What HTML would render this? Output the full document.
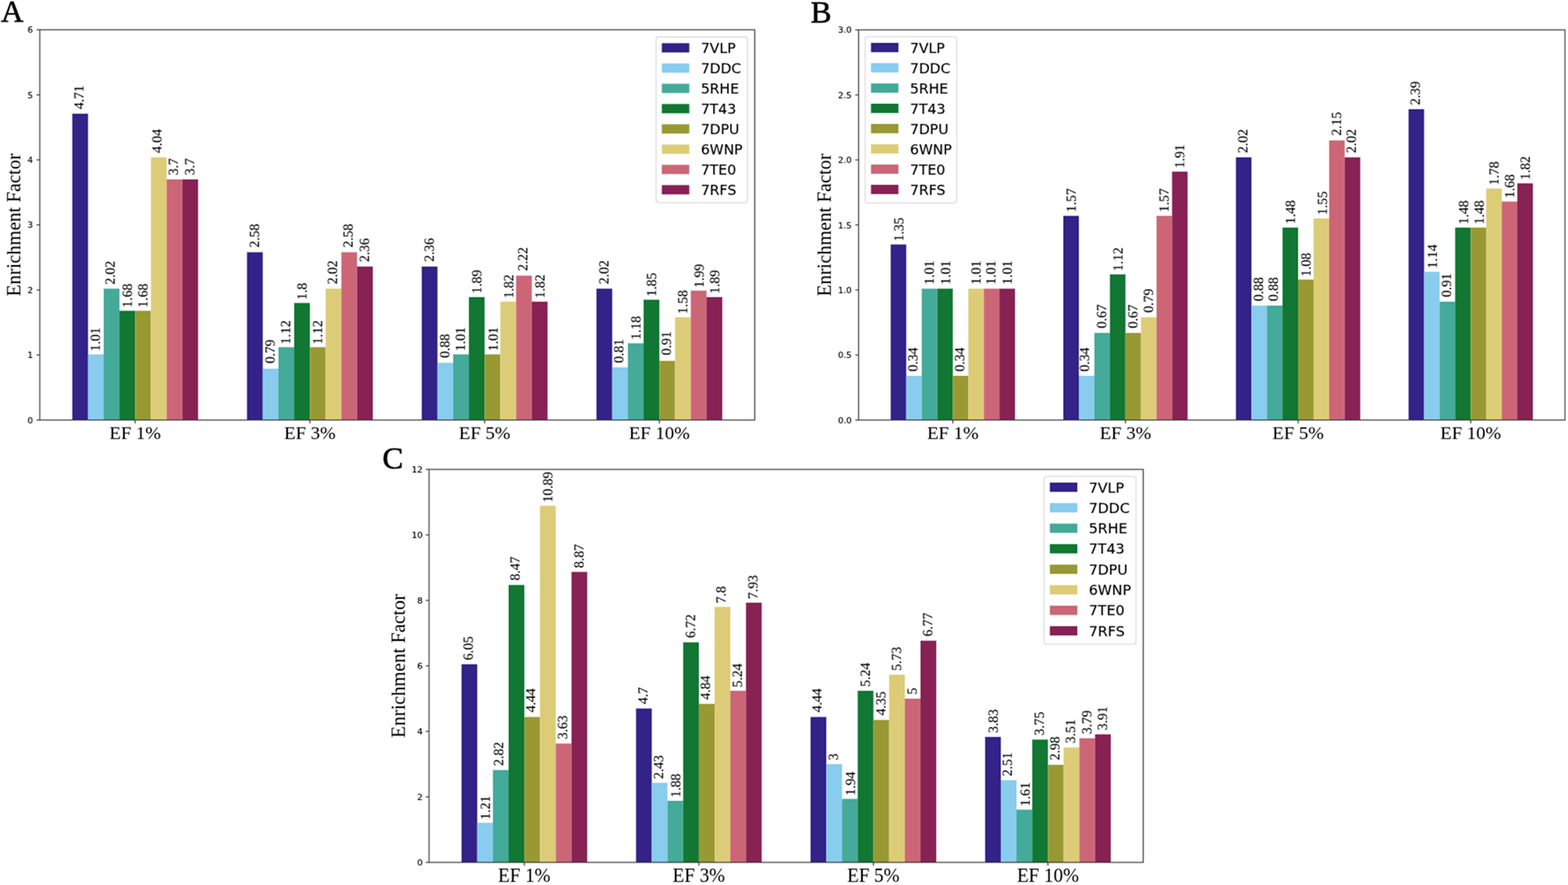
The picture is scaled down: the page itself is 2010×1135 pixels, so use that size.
<!DOCTYPE html>
<html><head><meta charset="utf-8"><title>Enrichment Factor</title>
<style>
html,body{margin:0;padding:0;background:#fff;}
body{width:2010px;height:1135px;overflow:hidden;}
svg{display:block;}
.yt,.lg{stroke:#000;stroke-width:0.12px;}
.v{stroke:#000;stroke-width:0.12px;}
.lt{stroke:#000;stroke-width:0.7px;}
.v{font-family:'Liberation Serif','Times New Roman',serif;font-size:17.50px;fill:#000;text-rendering:geometricPrecision;}
.yt{font-family:'DejaVu Sans','Liberation Sans',sans-serif;font-size:11.00px;fill:#000;text-anchor:end;}
.xt{font-family:'Liberation Serif','Times New Roman',serif;font-size:24.00px;fill:#000;text-anchor:middle;}
.yl{font-family:'Liberation Serif','Times New Roman',serif;font-size:24.50px;fill:#000;text-anchor:middle;}
.lt{font-family:'Liberation Serif','Times New Roman',serif;font-size:40.00px;fill:#000;}
.lg{font-family:'DejaVu Sans','Liberation Sans',sans-serif;font-size:18.00px;fill:#000;}
.xt.c{font-size:24.4px;}
.yt.c{font-size:11.2px;}
.yl.c{font-size:24.7px;}
.lg.c{font-size:18.2px;}
</style></head>
<body><div id="wrap">
<svg width="2010" height="1135" viewBox="0 0 2010 1135">
<defs><filter id="bl" filterUnits="userSpaceOnUse" x="-10" y="-10" width="2030" height="1155" color-interpolation-filters="sRGB"><feConvolveMatrix order="5" kernelMatrix="0.0049 -0.0168 -0.0462 -0.0168 0.0049 -0.0168 0.0576 0.1584 0.0576 -0.0168 -0.0462 0.1584 0.4356 0.1584 -0.0462 -0.0168 0.0576 0.1584 0.0576 -0.0168 0.0049 -0.0168 -0.0462 -0.0168 0.0049" divisor="1" edgeMode="duplicate" preserveAlpha="true"/></filter></defs>
<g filter="url(#bl)">
<rect x="-10" y="-10" width="2030" height="1155" fill="#fff"/>
<rect x="92.66" y="145.81" width="20.16" height="392.89" fill="#332288"/>
<rect x="112.82" y="454.45" width="20.16" height="84.25" fill="#88CCEE"/>
<rect x="132.97" y="370.20" width="20.16" height="168.50" fill="#44AA99"/>
<rect x="153.13" y="398.56" width="20.16" height="140.14" fill="#117733"/>
<rect x="173.29" y="398.56" width="20.16" height="140.14" fill="#999933"/>
<rect x="193.45" y="201.70" width="20.16" height="337.00" fill="#DDCC77"/>
<rect x="213.60" y="230.06" width="20.16" height="308.64" fill="#CC6677"/>
<rect x="233.76" y="230.06" width="20.16" height="308.64" fill="#882255"/>
<rect x="316.63" y="323.49" width="20.16" height="215.22" fill="#332288"/>
<rect x="336.79" y="472.80" width="20.16" height="65.90" fill="#88CCEE"/>
<rect x="356.95" y="445.27" width="20.16" height="93.43" fill="#44AA99"/>
<rect x="377.11" y="388.55" width="20.16" height="150.15" fill="#117733"/>
<rect x="397.26" y="445.27" width="20.16" height="93.43" fill="#999933"/>
<rect x="417.42" y="370.20" width="20.16" height="168.50" fill="#DDCC77"/>
<rect x="437.58" y="323.49" width="20.16" height="215.22" fill="#CC6677"/>
<rect x="457.74" y="341.84" width="20.16" height="196.86" fill="#882255"/>
<rect x="540.61" y="341.84" width="20.16" height="196.86" fill="#332288"/>
<rect x="560.76" y="465.29" width="20.16" height="73.41" fill="#88CCEE"/>
<rect x="580.92" y="454.45" width="20.16" height="84.25" fill="#44AA99"/>
<rect x="601.08" y="381.04" width="20.16" height="157.66" fill="#117733"/>
<rect x="621.24" y="454.45" width="20.16" height="84.25" fill="#999933"/>
<rect x="641.39" y="386.88" width="20.16" height="151.82" fill="#DDCC77"/>
<rect x="661.55" y="353.51" width="20.16" height="185.19" fill="#CC6677"/>
<rect x="681.71" y="386.88" width="20.16" height="151.82" fill="#882255"/>
<rect x="764.58" y="370.20" width="20.16" height="168.50" fill="#332288"/>
<rect x="784.74" y="471.13" width="20.16" height="67.57" fill="#88CCEE"/>
<rect x="804.90" y="440.27" width="20.16" height="98.43" fill="#44AA99"/>
<rect x="825.05" y="384.38" width="20.16" height="154.32" fill="#117733"/>
<rect x="845.21" y="462.79" width="20.16" height="75.91" fill="#999933"/>
<rect x="865.37" y="406.90" width="20.16" height="131.80" fill="#DDCC77"/>
<rect x="885.53" y="372.70" width="20.16" height="166.00" fill="#CC6677"/>
<rect x="905.68" y="381.04" width="20.16" height="157.66" fill="#882255"/>
<text class="v" transform="translate(107.19 140.01) rotate(-90) scale(1.000 1.020)">4.71</text>
<text class="v" transform="translate(128.13 450.55) rotate(-90) scale(1.000 1.020)">1.01</text>
<text class="v" transform="translate(146.67 365.10) rotate(-90) scale(1.000 1.020)">2.02</text>
<text class="v" transform="translate(168.84 394.46) rotate(-90) scale(1.000 1.020)">1.68</text>
<text class="v" transform="translate(188.80 394.46) rotate(-90) scale(1.000 1.020)">1.68</text>
<text class="v" transform="translate(207.27 196.20) rotate(-90) scale(1.000 1.020)">4.04</text>
<text class="v" transform="translate(228.15 224.76) rotate(-90) scale(1.000 1.020)">3.7</text>
<text class="v" transform="translate(248.81 224.76) rotate(-90) scale(1.000 1.020)">3.7</text>
<text class="v" transform="translate(331.67 317.58) rotate(-90) scale(1.000 1.020)">2.58</text>
<text class="v" transform="translate(351.94 466.10) rotate(-90) scale(1.000 1.020)">0.79</text>
<text class="v" transform="translate(372.44 441.47) rotate(-90) scale(1.000 1.020)">1.12</text>
<text class="v" transform="translate(392.90 384.55) rotate(-90) scale(1.000 1.020)">1.8</text>
<text class="v" transform="translate(412.55 441.47) rotate(-90) scale(1.000 1.020)">1.12</text>
<text class="v" transform="translate(432.12 364.60) rotate(-90) scale(1.000 1.020)">2.02</text>
<text class="v" transform="translate(451.92 317.58) rotate(-90) scale(1.000 1.020)">2.58</text>
<text class="v" transform="translate(472.83 336.04) rotate(-90) scale(1.000 1.020)">2.36</text>
<text class="v" transform="translate(555.51 335.84) rotate(-90) scale(1.000 1.020)">2.36</text>
<text class="v" transform="translate(576.26 458.99) rotate(-90) scale(1.000 1.020)">0.88</text>
<text class="v" transform="translate(596.43 450.15) rotate(-90) scale(1.000 1.020)">1.01</text>
<text class="v" transform="translate(616.86 376.54) rotate(-90) scale(1.000 1.020)">1.89</text>
<text class="v" transform="translate(637.55 450.15) rotate(-90) scale(1.000 1.020)">1.01</text>
<text class="v" transform="translate(657.89 382.58) rotate(-90) scale(1.000 1.020)">1.82</text>
<text class="v" transform="translate(676.27 347.61) rotate(-90) scale(1.000 1.020)">2.22</text>
<text class="v" transform="translate(698.21 382.58) rotate(-90) scale(1.000 1.020)">1.82</text>
<text class="v" transform="translate(779.98 364.40) rotate(-90) scale(1.000 1.020)">2.02</text>
<text class="v" transform="translate(799.44 465.43) rotate(-90) scale(1.000 1.020)">0.81</text>
<text class="v" transform="translate(820.99 435.77) rotate(-90) scale(1.000 1.020)">1.18</text>
<text class="v" transform="translate(841.30 380.28) rotate(-90) scale(1.000 1.020)">1.85</text>
<text class="v" transform="translate(860.01 455.59) rotate(-90) scale(1.000 1.020)">0.91</text>
<text class="v" transform="translate(881.31 402.70) rotate(-90) scale(1.000 1.020)">1.58</text>
<text class="v" transform="translate(902.19 369.00) rotate(-90) scale(1.000 1.020)">1.99</text>
<text class="v" transform="translate(921.76 376.84) rotate(-90) scale(1.000 1.020)">1.89</text>
<rect x="51.00" y="38.20" width="916.50" height="500.50" fill="none" stroke="#303030" stroke-width="1.20"/>
<line x1="46.80" y1="538.70" x2="51.00" y2="538.70" stroke="#303030" stroke-width="1.20"/>
<text class="yt" x="42.20" y="542.71">0</text>
<line x1="46.80" y1="455.28" x2="51.00" y2="455.28" stroke="#303030" stroke-width="1.20"/>
<text class="yt" x="42.20" y="459.29">1</text>
<line x1="46.80" y1="371.87" x2="51.00" y2="371.87" stroke="#303030" stroke-width="1.20"/>
<text class="yt" x="42.20" y="375.88">2</text>
<line x1="46.80" y1="288.45" x2="51.00" y2="288.45" stroke="#303030" stroke-width="1.20"/>
<text class="yt" x="42.20" y="292.46">3</text>
<line x1="46.80" y1="205.03" x2="51.00" y2="205.03" stroke="#303030" stroke-width="1.20"/>
<text class="yt" x="42.20" y="209.04">4</text>
<line x1="46.80" y1="121.62" x2="51.00" y2="121.62" stroke="#303030" stroke-width="1.20"/>
<text class="yt" x="42.20" y="125.63">5</text>
<line x1="46.80" y1="38.20" x2="51.00" y2="38.20" stroke="#303030" stroke-width="1.20"/>
<text class="yt" x="42.20" y="42.21">6</text>
<line x1="173.29" y1="538.70" x2="173.29" y2="542.90" stroke="#303030" stroke-width="1.20"/>
<text class="xt" x="173.29" y="562.70">EF 1%</text>
<line x1="397.26" y1="538.70" x2="397.26" y2="542.90" stroke="#303030" stroke-width="1.20"/>
<text class="xt" x="397.26" y="562.70">EF 3%</text>
<line x1="621.24" y1="538.70" x2="621.24" y2="542.90" stroke="#303030" stroke-width="1.20"/>
<text class="xt" x="621.24" y="562.70">EF 5%</text>
<line x1="845.21" y1="538.70" x2="845.21" y2="542.90" stroke="#303030" stroke-width="1.20"/>
<text class="xt" x="845.21" y="562.70">EF 10%</text>
<text class="yl" transform="translate(26.00 288.45) rotate(-90)">Enrichment Factor</text>
<text class="lt" x="1.20" y="28.20">A</text>
<rect x="841.00" y="47.40" width="117.20" height="212.60" rx="3.5" fill="#fff" fill-opacity="0.8" stroke="#d4d4d4" stroke-width="1.1"/>
<rect x="848.40" y="55.40" width="35.2" height="11.9" fill="#332288"/>
<text class="lg" x="898.40" y="67.90">7VLP</text>
<rect x="848.40" y="81.40" width="35.2" height="11.9" fill="#88CCEE"/>
<text class="lg" x="898.40" y="93.90">7DDC</text>
<rect x="848.40" y="107.40" width="35.2" height="11.9" fill="#44AA99"/>
<text class="lg" x="898.40" y="119.90">5RHE</text>
<rect x="848.40" y="133.40" width="35.2" height="11.9" fill="#117733"/>
<text class="lg" x="898.40" y="145.90">7T43</text>
<rect x="848.40" y="159.40" width="35.2" height="11.9" fill="#999933"/>
<text class="lg" x="898.40" y="171.90">7DPU</text>
<rect x="848.40" y="185.40" width="35.2" height="11.9" fill="#DDCC77"/>
<text class="lg" x="898.40" y="197.90">6WNP</text>
<rect x="848.40" y="211.40" width="35.2" height="11.9" fill="#CC6677"/>
<text class="lg" x="898.40" y="223.90">7TE0</text>
<rect x="848.40" y="237.40" width="35.2" height="11.9" fill="#882255"/>
<text class="lg" x="898.40" y="249.90">7RFS</text>
<rect x="1141.76" y="313.52" width="19.92" height="225.18" fill="#332288"/>
<rect x="1161.67" y="481.99" width="19.92" height="56.71" fill="#88CCEE"/>
<rect x="1181.59" y="370.23" width="19.92" height="168.47" fill="#44AA99"/>
<rect x="1201.51" y="370.23" width="19.92" height="168.47" fill="#117733"/>
<rect x="1221.42" y="481.99" width="19.92" height="56.71" fill="#999933"/>
<rect x="1241.34" y="370.23" width="19.92" height="168.47" fill="#DDCC77"/>
<rect x="1261.25" y="370.23" width="19.92" height="168.47" fill="#CC6677"/>
<rect x="1281.17" y="370.23" width="19.92" height="168.47" fill="#882255"/>
<rect x="1363.04" y="276.82" width="19.92" height="261.88" fill="#332288"/>
<rect x="1382.96" y="481.99" width="19.92" height="56.71" fill="#88CCEE"/>
<rect x="1402.88" y="426.94" width="19.92" height="111.76" fill="#44AA99"/>
<rect x="1422.79" y="351.88" width="19.92" height="186.82" fill="#117733"/>
<rect x="1442.71" y="426.94" width="19.92" height="111.76" fill="#999933"/>
<rect x="1462.62" y="406.93" width="19.92" height="131.77" fill="#DDCC77"/>
<rect x="1482.54" y="276.82" width="19.92" height="261.88" fill="#CC6677"/>
<rect x="1502.45" y="220.11" width="19.92" height="318.59" fill="#882255"/>
<rect x="1584.33" y="201.76" width="19.92" height="336.94" fill="#332288"/>
<rect x="1604.25" y="391.92" width="19.92" height="146.78" fill="#88CCEE"/>
<rect x="1624.16" y="391.92" width="19.92" height="146.78" fill="#44AA99"/>
<rect x="1644.08" y="291.84" width="19.92" height="246.86" fill="#117733"/>
<rect x="1663.99" y="358.56" width="19.92" height="180.14" fill="#999933"/>
<rect x="1683.91" y="280.16" width="19.92" height="258.54" fill="#DDCC77"/>
<rect x="1703.82" y="180.08" width="19.92" height="358.62" fill="#CC6677"/>
<rect x="1723.74" y="201.76" width="19.92" height="336.94" fill="#882255"/>
<rect x="1805.62" y="140.05" width="19.92" height="398.65" fill="#332288"/>
<rect x="1825.53" y="348.55" width="19.92" height="190.15" fill="#88CCEE"/>
<rect x="1845.45" y="386.91" width="19.92" height="151.79" fill="#44AA99"/>
<rect x="1865.36" y="291.84" width="19.92" height="246.86" fill="#117733"/>
<rect x="1885.28" y="291.84" width="19.92" height="246.86" fill="#999933"/>
<rect x="1905.19" y="241.80" width="19.92" height="296.90" fill="#DDCC77"/>
<rect x="1925.11" y="258.48" width="19.92" height="280.22" fill="#CC6677"/>
<rect x="1945.03" y="235.12" width="19.92" height="303.58" fill="#882255"/>
<text class="v" transform="translate(1157.98 309.52) rotate(-90) scale(1.000 1.020)">1.35</text>
<text class="v" transform="translate(1176.35 476.49) rotate(-90) scale(1.000 1.020)">0.34</text>
<text class="v" transform="translate(1197.29 364.93) rotate(-90) scale(1.000 1.020)">1.01</text>
<text class="v" transform="translate(1217.50 364.93) rotate(-90) scale(1.000 1.020)">1.01</text>
<text class="v" transform="translate(1235.70 476.49) rotate(-90) scale(1.000 1.020)">0.34</text>
<text class="v" transform="translate(1256.64 364.93) rotate(-90) scale(1.000 1.020)">1.01</text>
<text class="v" transform="translate(1276.45 364.93) rotate(-90) scale(1.000 1.020)">1.01</text>
<text class="v" transform="translate(1296.57 364.93) rotate(-90) scale(1.000 1.020)">1.01</text>
<text class="v" transform="translate(1378.73 272.02) rotate(-90) scale(1.000 1.020)">1.57</text>
<text class="v" transform="translate(1396.34 476.49) rotate(-90) scale(1.000 1.020)">0.34</text>
<text class="v" transform="translate(1417.60 420.94) rotate(-90) scale(1.000 1.020)">0.67</text>
<text class="v" transform="translate(1439.07 347.78) rotate(-90) scale(1.000 1.020)">1.12</text>
<text class="v" transform="translate(1457.54 421.04) rotate(-90) scale(1.000 1.020)">0.67</text>
<text class="v" transform="translate(1477.55 400.93) rotate(-90) scale(1.000 1.020)">0.79</text>
<text class="v" transform="translate(1498.43 272.02) rotate(-90) scale(1.000 1.020)">1.57</text>
<text class="v" transform="translate(1518.20 215.81) rotate(-90) scale(1.000 1.020)">1.91</text>
<text class="v" transform="translate(1599.23 196.16) rotate(-90) scale(1.000 1.020)">2.02</text>
<text class="v" transform="translate(1618.62 386.22) rotate(-90) scale(1.000 1.020)">0.88</text>
<text class="v" transform="translate(1638.34 386.22) rotate(-90) scale(1.000 1.020)">0.88</text>
<text class="v" transform="translate(1659.74 287.34) rotate(-90) scale(1.000 1.020)">1.48</text>
<text class="v" transform="translate(1679.57 354.86) rotate(-90) scale(1.000 1.020)">1.08</text>
<text class="v" transform="translate(1700.60 275.86) rotate(-90) scale(1.000 1.020)">1.55</text>
<text class="v" transform="translate(1718.54 174.08) rotate(-90) scale(1.000 1.020)">2.15</text>
<text class="v" transform="translate(1738.44 196.16) rotate(-90) scale(1.000 1.020)">2.02</text>
<text class="v" transform="translate(1820.28 134.75) rotate(-90) scale(1.000 1.020)">2.39</text>
<text class="v" transform="translate(1841.58 344.15) rotate(-90) scale(1.000 1.020)">1.14</text>
<text class="v" transform="translate(1859.82 381.11) rotate(-90) scale(1.000 1.020)">0.91</text>
<text class="v" transform="translate(1882.03 287.64) rotate(-90) scale(1.000 1.020)">1.48</text>
<text class="v" transform="translate(1901.65 287.64) rotate(-90) scale(1.000 1.020)">1.48</text>
<text class="v" transform="translate(1921.33 237.50) rotate(-90) scale(1.000 1.020)">1.78</text>
<text class="v" transform="translate(1941.20 254.08) rotate(-90) scale(1.000 1.020)">1.68</text>
<text class="v" transform="translate(1960.78 230.82) rotate(-90) scale(1.000 1.020)">1.82</text>
<rect x="1100.60" y="38.30" width="905.50" height="500.40" fill="none" stroke="#303030" stroke-width="1.20"/>
<line x1="1096.40" y1="538.70" x2="1100.60" y2="538.70" stroke="#303030" stroke-width="1.20"/>
<text class="yt" x="1091.80" y="542.71">0.0</text>
<line x1="1096.40" y1="455.30" x2="1100.60" y2="455.30" stroke="#303030" stroke-width="1.20"/>
<text class="yt" x="1091.80" y="459.31">0.5</text>
<line x1="1096.40" y1="371.90" x2="1100.60" y2="371.90" stroke="#303030" stroke-width="1.20"/>
<text class="yt" x="1091.80" y="375.91">1.0</text>
<line x1="1096.40" y1="288.50" x2="1100.60" y2="288.50" stroke="#303030" stroke-width="1.20"/>
<text class="yt" x="1091.80" y="292.51">1.5</text>
<line x1="1096.40" y1="205.10" x2="1100.60" y2="205.10" stroke="#303030" stroke-width="1.20"/>
<text class="yt" x="1091.80" y="209.11">2.0</text>
<line x1="1096.40" y1="121.70" x2="1100.60" y2="121.70" stroke="#303030" stroke-width="1.20"/>
<text class="yt" x="1091.80" y="125.71">2.5</text>
<line x1="1096.40" y1="38.30" x2="1100.60" y2="38.30" stroke="#303030" stroke-width="1.20"/>
<text class="yt" x="1091.80" y="42.31">3.0</text>
<line x1="1221.42" y1="538.70" x2="1221.42" y2="542.90" stroke="#303030" stroke-width="1.20"/>
<text class="xt" x="1221.42" y="562.70">EF 1%</text>
<line x1="1442.71" y1="538.70" x2="1442.71" y2="542.90" stroke="#303030" stroke-width="1.20"/>
<text class="xt" x="1442.71" y="562.70">EF 3%</text>
<line x1="1663.99" y1="538.70" x2="1663.99" y2="542.90" stroke="#303030" stroke-width="1.20"/>
<text class="xt" x="1663.99" y="562.70">EF 5%</text>
<line x1="1885.28" y1="538.70" x2="1885.28" y2="542.90" stroke="#303030" stroke-width="1.20"/>
<text class="xt" x="1885.28" y="562.70">EF 10%</text>
<text class="yl" transform="translate(1065.00 288.50) rotate(-90)">Enrichment Factor</text>
<text class="lt" x="1039.20" y="28.50">B</text>
<rect x="1109.10" y="47.00" width="117.40" height="213.20" rx="3.5" fill="#fff" fill-opacity="0.8" stroke="#d4d4d4" stroke-width="1.1"/>
<rect x="1116.50" y="55.00" width="35.2" height="11.9" fill="#332288"/>
<text class="lg" x="1166.50" y="67.50">7VLP</text>
<rect x="1116.50" y="81.00" width="35.2" height="11.9" fill="#88CCEE"/>
<text class="lg" x="1166.50" y="93.50">7DDC</text>
<rect x="1116.50" y="107.00" width="35.2" height="11.9" fill="#44AA99"/>
<text class="lg" x="1166.50" y="119.50">5RHE</text>
<rect x="1116.50" y="133.00" width="35.2" height="11.9" fill="#117733"/>
<text class="lg" x="1166.50" y="145.50">7T43</text>
<rect x="1116.50" y="159.00" width="35.2" height="11.9" fill="#999933"/>
<text class="lg" x="1166.50" y="171.50">7DPU</text>
<rect x="1116.50" y="185.00" width="35.2" height="11.9" fill="#DDCC77"/>
<text class="lg" x="1166.50" y="197.50">6WNP</text>
<rect x="1116.50" y="211.00" width="35.2" height="11.9" fill="#CC6677"/>
<text class="lg" x="1166.50" y="223.50">7TE0</text>
<rect x="1116.50" y="237.00" width="35.2" height="11.9" fill="#882255"/>
<text class="lg" x="1166.50" y="249.50">7RFS</text>
<rect x="591.61" y="851.90" width="20.14" height="254.10" fill="#332288"/>
<rect x="611.75" y="1055.18" width="20.14" height="50.82" fill="#88CCEE"/>
<rect x="631.88" y="987.56" width="20.14" height="118.44" fill="#44AA99"/>
<rect x="652.02" y="750.26" width="20.14" height="355.74" fill="#117733"/>
<rect x="672.16" y="919.52" width="20.14" height="186.48" fill="#999933"/>
<rect x="692.29" y="648.62" width="20.14" height="457.38" fill="#DDCC77"/>
<rect x="712.43" y="953.54" width="20.14" height="152.46" fill="#CC6677"/>
<rect x="732.56" y="733.46" width="20.14" height="372.54" fill="#882255"/>
<rect x="815.34" y="908.60" width="20.14" height="197.40" fill="#332288"/>
<rect x="835.48" y="1003.94" width="20.14" height="102.06" fill="#88CCEE"/>
<rect x="855.61" y="1027.04" width="20.14" height="78.96" fill="#44AA99"/>
<rect x="875.75" y="823.76" width="20.14" height="282.24" fill="#117733"/>
<rect x="895.89" y="902.72" width="20.14" height="203.28" fill="#999933"/>
<rect x="916.02" y="778.40" width="20.14" height="327.60" fill="#DDCC77"/>
<rect x="936.16" y="885.92" width="20.14" height="220.08" fill="#CC6677"/>
<rect x="956.29" y="772.94" width="20.14" height="333.06" fill="#882255"/>
<rect x="1039.07" y="919.52" width="20.14" height="186.48" fill="#332288"/>
<rect x="1059.21" y="980.00" width="20.14" height="126.00" fill="#88CCEE"/>
<rect x="1079.34" y="1024.52" width="20.14" height="81.48" fill="#44AA99"/>
<rect x="1099.48" y="885.92" width="20.14" height="220.08" fill="#117733"/>
<rect x="1119.61" y="923.30" width="20.14" height="182.70" fill="#999933"/>
<rect x="1139.75" y="865.34" width="20.14" height="240.66" fill="#DDCC77"/>
<rect x="1159.89" y="896.00" width="20.14" height="210.00" fill="#CC6677"/>
<rect x="1180.02" y="821.66" width="20.14" height="284.34" fill="#882255"/>
<rect x="1262.80" y="945.14" width="20.14" height="160.86" fill="#332288"/>
<rect x="1282.94" y="1000.58" width="20.14" height="105.42" fill="#88CCEE"/>
<rect x="1303.07" y="1038.38" width="20.14" height="67.62" fill="#44AA99"/>
<rect x="1323.21" y="948.50" width="20.14" height="157.50" fill="#117733"/>
<rect x="1343.34" y="980.84" width="20.14" height="125.16" fill="#999933"/>
<rect x="1363.48" y="958.58" width="20.14" height="147.42" fill="#DDCC77"/>
<rect x="1383.62" y="946.82" width="20.14" height="159.18" fill="#CC6677"/>
<rect x="1403.75" y="941.78" width="20.14" height="164.22" fill="#882255"/>
<text class="v" transform="translate(606.34 846.70) rotate(-90) scale(1.000 1.020)">6.05</text>
<text class="v" transform="translate(628.33 1051.18) rotate(-90) scale(1.000 1.020)">1.21</text>
<text class="v" transform="translate(645.46 982.16) rotate(-90) scale(1.000 1.020)">2.82</text>
<text class="v" transform="translate(666.36 744.46) rotate(-90) scale(1.000 1.020)">8.47</text>
<text class="v" transform="translate(686.11 913.62) rotate(-90) scale(1.000 1.020)">4.44</text>
<text class="v" transform="translate(707.57 644.32) rotate(-90) scale(1.000 1.020)">10.89</text>
<text class="v" transform="translate(727.22 948.04) rotate(-90) scale(1.000 1.020)">3.63</text>
<text class="v" transform="translate(747.80 728.46) rotate(-90) scale(1.000 1.020)">8.87</text>
<text class="v" transform="translate(829.59 903.10) rotate(-90) scale(1.000 1.020)">4.7</text>
<text class="v" transform="translate(850.17 999.04) rotate(-90) scale(1.000 1.020)">2.43</text>
<text class="v" transform="translate(871.89 1022.84) rotate(-90) scale(1.000 1.020)">1.88</text>
<text class="v" transform="translate(890.90 818.36) rotate(-90) scale(1.000 1.020)">6.72</text>
<text class="v" transform="translate(909.58 897.22) rotate(-90) scale(1.000 1.020)">4.84</text>
<text class="v" transform="translate(930.36 773.70) rotate(-90) scale(1.000 1.020)">7.8</text>
<text class="v" transform="translate(950.99 881.52) rotate(-90) scale(1.000 1.020)">5.24</text>
<text class="v" transform="translate(971.13 768.24) rotate(-90) scale(1.000 1.020)">7.93</text>
<text class="v" transform="translate(1053.23 913.62) rotate(-90) scale(1.000 1.020)">4.44</text>
<text class="v" transform="translate(1074.13 975.10) rotate(-90) scale(1.000 1.020)">3</text>
<text class="v" transform="translate(1095.51 1020.32) rotate(-90) scale(1.000 1.020)">1.94</text>
<text class="v" transform="translate(1114.72 880.72) rotate(-90) scale(1.000 1.020)">5.24</text>
<text class="v" transform="translate(1134.84 917.40) rotate(-90) scale(1.000 1.020)">4.35</text>
<text class="v" transform="translate(1155.38 860.24) rotate(-90) scale(1.000 1.020)">5.73</text>
<text class="v" transform="translate(1174.61 890.70) rotate(-90) scale(1.000 1.020)">5</text>
<text class="v" transform="translate(1194.68 816.36) rotate(-90) scale(1.000 1.020)">6.77</text>
<text class="v" transform="translate(1278.68 940.04) rotate(-90) scale(1.000 1.020)">3.83</text>
<text class="v" transform="translate(1297.36 995.48) rotate(-90) scale(1.000 1.020)">2.51</text>
<text class="v" transform="translate(1319.58 1033.98) rotate(-90) scale(1.000 1.020)">1.61</text>
<text class="v" transform="translate(1338.25 943.30) rotate(-90) scale(1.000 1.020)">3.75</text>
<text class="v" transform="translate(1358.04 975.04) rotate(-90) scale(1.000 1.020)">2.98</text>
<text class="v" transform="translate(1378.31 953.18) rotate(-90) scale(1.000 1.020)">3.51</text>
<text class="v" transform="translate(1398.95 941.62) rotate(-90) scale(1.000 1.020)">3.79</text>
<text class="v" transform="translate(1418.64 936.58) rotate(-90) scale(1.000 1.020)">3.91</text>
<rect x="550.00" y="602.00" width="915.50" height="504.00" fill="none" stroke="#303030" stroke-width="1.20"/>
<line x1="545.80" y1="1106.00" x2="550.00" y2="1106.00" stroke="#303030" stroke-width="1.20"/>
<text class="yt c" x="541.90" y="1110.01">0</text>
<line x1="545.80" y1="1022.00" x2="550.00" y2="1022.00" stroke="#303030" stroke-width="1.20"/>
<text class="yt c" x="541.90" y="1026.01">2</text>
<line x1="545.80" y1="938.00" x2="550.00" y2="938.00" stroke="#303030" stroke-width="1.20"/>
<text class="yt c" x="541.90" y="942.01">4</text>
<line x1="545.80" y1="854.00" x2="550.00" y2="854.00" stroke="#303030" stroke-width="1.20"/>
<text class="yt c" x="541.90" y="858.01">6</text>
<line x1="545.80" y1="770.00" x2="550.00" y2="770.00" stroke="#303030" stroke-width="1.20"/>
<text class="yt c" x="541.90" y="774.01">8</text>
<line x1="545.80" y1="686.00" x2="550.00" y2="686.00" stroke="#303030" stroke-width="1.20"/>
<text class="yt c" x="541.90" y="690.01">10</text>
<line x1="545.80" y1="602.00" x2="550.00" y2="602.00" stroke="#303030" stroke-width="1.20"/>
<text class="yt c" x="541.90" y="606.01">12</text>
<line x1="672.16" y1="1106.00" x2="672.16" y2="1110.20" stroke="#303030" stroke-width="1.20"/>
<text class="xt c" x="672.16" y="1131.00">EF 1%</text>
<line x1="895.89" y1="1106.00" x2="895.89" y2="1110.20" stroke="#303030" stroke-width="1.20"/>
<text class="xt c" x="895.89" y="1131.00">EF 3%</text>
<line x1="1119.61" y1="1106.00" x2="1119.61" y2="1110.20" stroke="#303030" stroke-width="1.20"/>
<text class="xt c" x="1119.61" y="1131.00">EF 5%</text>
<line x1="1343.34" y1="1106.00" x2="1343.34" y2="1110.20" stroke="#303030" stroke-width="1.20"/>
<text class="xt c" x="1343.34" y="1131.00">EF 10%</text>
<text class="yl c" transform="translate(518.70 854.00) rotate(-90)">Enrichment Factor</text>
<text class="lt" x="490.30" y="600.60">C</text>
<rect x="1338.40" y="611.00" width="117.80" height="215.20" rx="3.5" fill="#fff" fill-opacity="0.8" stroke="#d4d4d4" stroke-width="1.1"/>
<rect x="1345.80" y="618.90" width="35.2" height="11.9" fill="#332288"/>
<text class="lg c" x="1395.80" y="631.50">7VLP</text>
<rect x="1345.80" y="645.21" width="35.2" height="11.9" fill="#88CCEE"/>
<text class="lg c" x="1395.80" y="657.81">7DDC</text>
<rect x="1345.80" y="671.52" width="35.2" height="11.9" fill="#44AA99"/>
<text class="lg c" x="1395.80" y="684.12">5RHE</text>
<rect x="1345.80" y="697.83" width="35.2" height="11.9" fill="#117733"/>
<text class="lg c" x="1395.80" y="710.43">7T43</text>
<rect x="1345.80" y="724.14" width="35.2" height="11.9" fill="#999933"/>
<text class="lg c" x="1395.80" y="736.74">7DPU</text>
<rect x="1345.80" y="750.45" width="35.2" height="11.9" fill="#DDCC77"/>
<text class="lg c" x="1395.80" y="763.05">6WNP</text>
<rect x="1345.80" y="776.76" width="35.2" height="11.9" fill="#CC6677"/>
<text class="lg c" x="1395.80" y="789.36">7TE0</text>
<rect x="1345.80" y="803.07" width="35.2" height="11.9" fill="#882255"/>
<text class="lg c" x="1395.80" y="815.67">7RFS</text>
</g>
</svg></div>
</body></html>
